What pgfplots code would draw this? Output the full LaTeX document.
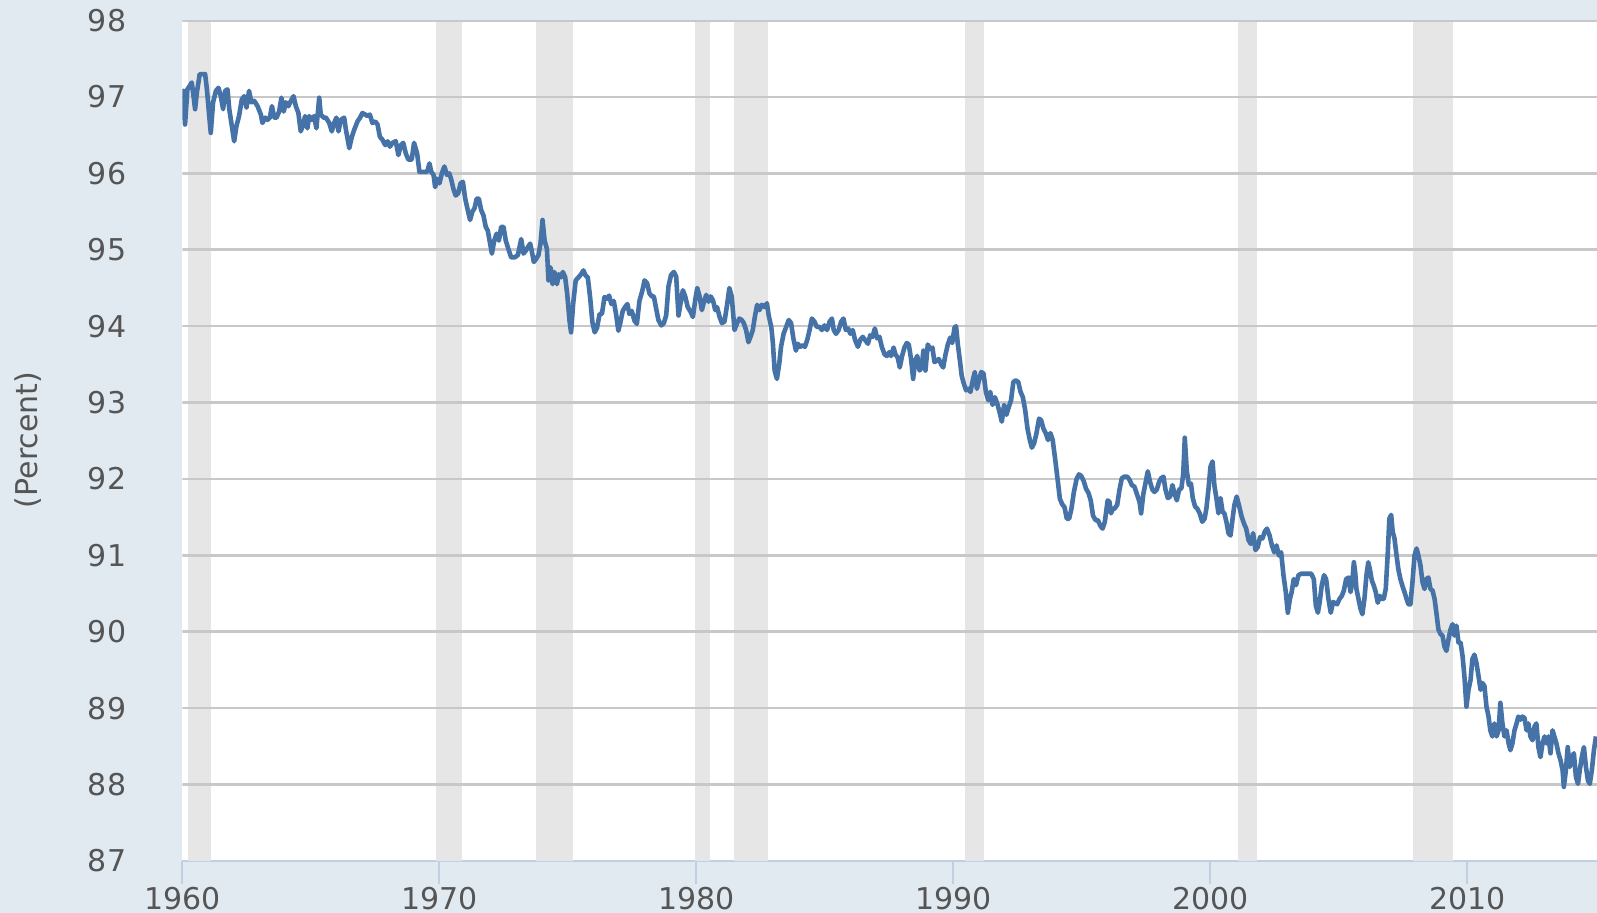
\documentclass[border=0pt]{standalone}
\usepackage{fontspec}
\setmainfont{DejaVu Sans}
\usepackage{pgfplots}
\usepackage{pgfplotstable}
\pgfplotsset{compat=1.18}
\definecolor{bgc}{HTML}{E1E9F1}
\definecolor{recc}{HTML}{E6E6E6}
\definecolor{gridc}{HTML}{C8C8C8}
\definecolor{linec}{HTML}{4572A7}
\definecolor{axisc}{HTML}{C0D0E0}
\definecolor{txtc}{HTML}{555555}
\pgfplotstableread{
x y
1960.00 96.70
1960.04 97.08
1960.10 96.64
1960.19 97.10
1960.29 97.15
1960.36 97.19
1960.43 97.01
1960.49 96.84
1960.56 97.06
1960.62 97.19
1960.67 97.30
1960.78 97.30
1960.88 97.30
1960.95 97.10
1961.04 96.75
1961.10 96.53
1961.19 96.93
1961.30 97.08
1961.40 97.12
1961.49 97.01
1961.58 96.84
1961.66 97.08
1961.75 97.10
1961.82 96.84
1961.92 96.62
1962.01 96.42
1962.10 96.62
1962.20 96.75
1962.31 96.97
1962.40 97.01
1962.49 96.86
1962.59 97.08
1962.68 96.93
1962.79 96.95
1962.92 96.88
1963.05 96.77
1963.11 96.66
1963.22 96.73
1963.31 96.70
1963.40 96.73
1963.48 96.88
1963.57 96.73
1963.66 96.73
1963.76 96.81
1963.85 96.99
1963.94 96.81
1964.02 96.93
1964.12 96.88
1964.22 96.95
1964.32 97.01
1964.41 96.88
1964.51 96.79
1964.60 96.55
1964.70 96.64
1964.77 96.75
1964.86 96.59
1964.93 96.75
1965.03 96.70
1965.12 96.75
1965.21 96.59
1965.32 96.99
1965.38 96.77
1965.49 96.73
1965.58 96.73
1965.71 96.66
1965.81 96.55
1965.90 96.66
1965.99 96.73
1966.07 96.55
1966.16 96.70
1966.29 96.73
1966.36 96.57
1966.49 96.33
1966.59 96.48
1966.68 96.57
1966.81 96.68
1966.91 96.73
1967.00 96.79
1967.11 96.77
1967.20 96.75
1967.29 96.77
1967.39 96.66
1967.50 96.68
1967.59 96.64
1967.68 96.48
1967.78 96.44
1967.89 96.37
1967.98 96.42
1968.07 96.35
1968.17 96.40
1968.30 96.42
1968.40 96.24
1968.50 96.37
1968.59 96.40
1968.69 96.26
1968.79 96.18
1968.92 96.18
1969.01 96.40
1969.13 96.26
1969.22 96.02
1969.31 96.02
1969.42 96.02
1969.52 96.02
1969.61 96.13
1969.68 96.02
1969.77 95.98
1969.83 95.82
1969.91 95.93
1970.00 95.87
1970.09 96.00
1970.19 96.09
1970.29 95.98
1970.38 96.00
1970.45 95.93
1970.54 95.80
1970.63 95.71
1970.73 95.74
1970.82 95.87
1970.91 95.89
1971.00 95.67
1971.10 95.52
1971.19 95.39
1971.28 95.50
1971.36 95.54
1971.45 95.67
1971.53 95.67
1971.62 95.52
1971.71 95.45
1971.80 95.30
1971.88 95.25
1971.97 95.08
1972.04 94.95
1972.13 95.12
1972.22 95.21
1972.31 95.12
1972.40 95.30
1972.49 95.30
1972.58 95.12
1972.68 95.01
1972.79 94.90
1972.92 94.90
1973.05 94.93
1973.18 95.14
1973.27 94.95
1973.36 94.99
1973.45 95.04
1973.53 95.08
1973.61 94.95
1973.67 94.84
1973.76 94.88
1973.85 94.93
1973.93 95.08
1974.01 95.39
1974.09 95.12
1974.18 95.01
1974.24 94.60
1974.32 94.77
1974.40 94.55
1974.47 94.71
1974.57 94.55
1974.64 94.68
1974.73 94.64
1974.80 94.71
1974.89 94.64
1974.97 94.42
1975.06 94.07
1975.12 93.92
1975.20 94.29
1975.30 94.60
1975.41 94.64
1975.51 94.68
1975.60 94.73
1975.69 94.66
1975.77 94.64
1975.86 94.38
1975.95 94.05
1976.04 93.92
1976.13 93.98
1976.23 94.16
1976.32 94.16
1976.42 94.38
1976.51 94.36
1976.60 94.40
1976.69 94.29
1976.78 94.33
1976.87 94.16
1976.96 93.94
1977.04 94.05
1977.13 94.20
1977.22 94.25
1977.31 94.29
1977.39 94.16
1977.48 94.20
1977.59 94.07
1977.68 94.03
1977.78 94.33
1977.89 94.46
1977.98 94.60
1978.08 94.56
1978.17 94.43
1978.26 94.39
1978.34 94.39
1978.43 94.23
1978.52 94.08
1978.63 94.01
1978.73 94.04
1978.82 94.14
1978.91 94.52
1979.01 94.67
1979.12 94.71
1979.21 94.65
1979.30 94.14
1979.38 94.30
1979.47 94.47
1979.56 94.39
1979.66 94.25
1979.77 94.19
1979.86 94.12
1979.95 94.34
1980.03 94.50
1980.12 94.39
1980.21 94.21
1980.29 94.32
1980.38 94.41
1980.47 94.32
1980.55 94.39
1980.64 94.34
1980.73 94.21
1980.80 94.25
1980.90 94.12
1980.99 94.04
1981.09 94.06
1981.19 94.28
1981.28 94.50
1981.37 94.39
1981.48 93.95
1981.58 94.04
1981.67 94.10
1981.76 94.08
1981.84 94.04
1981.93 93.95
1982.02 93.79
1982.10 93.86
1982.19 93.95
1982.28 94.14
1982.36 94.28
1982.45 94.21
1982.54 94.28
1982.65 94.25
1982.74 94.30
1982.81 94.14
1982.91 93.99
1982.97 93.79
1983.04 93.42
1983.13 93.31
1983.22 93.51
1983.29 93.73
1983.39 93.90
1983.49 93.99
1983.59 94.08
1983.68 94.04
1983.77 93.84
1983.87 93.68
1983.94 93.77
1984.03 93.73
1984.13 93.75
1984.22 93.73
1984.31 93.82
1984.40 93.95
1984.49 94.10
1984.59 94.06
1984.68 93.99
1984.79 93.99
1984.88 93.95
1984.98 94.01
1985.08 93.95
1985.18 94.06
1985.27 94.10
1985.34 93.95
1985.43 93.90
1985.53 93.95
1985.63 94.06
1985.72 94.10
1985.81 93.95
1985.90 93.97
1985.99 93.90
1986.08 93.95
1986.17 93.82
1986.28 93.73
1986.37 93.82
1986.47 93.86
1986.56 93.82
1986.67 93.77
1986.76 93.88
1986.85 93.86
1986.94 93.97
1987.03 93.84
1987.12 93.86
1987.21 93.73
1987.32 93.63
1987.41 93.61
1987.50 93.66
1987.57 93.61
1987.67 93.72
1987.74 93.63
1987.83 93.59
1987.91 93.46
1988.00 93.61
1988.09 93.72
1988.18 93.78
1988.26 93.76
1988.35 93.57
1988.43 93.31
1988.51 93.55
1988.59 93.61
1988.68 93.42
1988.76 93.46
1988.83 93.68
1988.91 93.42
1989.00 93.76
1989.09 93.70
1989.18 93.72
1989.26 93.53
1989.35 93.55
1989.43 93.57
1989.52 93.50
1989.60 93.46
1989.69 93.63
1989.78 93.76
1989.87 93.85
1989.95 93.78
1990.04 93.98
1990.10 94.00
1990.17 93.76
1990.25 93.55
1990.32 93.35
1990.40 93.25
1990.49 93.16
1990.57 93.18
1990.66 93.14
1990.75 93.29
1990.83 93.40
1990.91 93.18
1990.99 93.29
1991.08 93.40
1991.17 93.38
1991.26 93.14
1991.35 93.03
1991.43 93.14
1991.52 92.97
1991.61 93.07
1991.70 92.99
1991.79 92.88
1991.88 92.75
1991.97 92.97
1992.06 92.84
1992.15 92.94
1992.24 93.03
1992.33 93.27
1992.42 93.29
1992.52 93.27
1992.61 93.14
1992.70 93.07
1992.79 92.90
1992.88 92.66
1992.97 92.51
1993.05 92.41
1993.14 92.47
1993.23 92.60
1993.33 92.79
1993.41 92.77
1993.50 92.66
1993.59 92.60
1993.68 92.51
1993.77 92.60
1993.86 92.51
1993.96 92.25
1994.05 92.00
1994.14 91.74
1994.23 91.67
1994.32 91.63
1994.41 91.48
1994.50 91.48
1994.59 91.61
1994.68 91.82
1994.79 92.00
1994.88 92.06
1994.97 92.04
1995.07 91.97
1995.16 91.87
1995.25 91.82
1995.34 91.72
1995.43 91.52
1995.53 91.46
1995.62 91.46
1995.71 91.39
1995.80 91.35
1995.89 91.44
1995.94 91.57
1996.00 91.72
1996.07 91.70
1996.13 91.55
1996.20 91.61
1996.26 91.61
1996.37 91.66
1996.46 91.86
1996.55 92.01
1996.65 92.03
1996.76 92.03
1996.85 91.99
1996.94 91.92
1997.04 91.90
1997.13 91.81
1997.24 91.70
1997.30 91.55
1997.39 91.81
1997.48 91.96
1997.56 92.10
1997.65 91.96
1997.74 91.86
1997.82 91.83
1997.91 91.86
1998.00 91.96
1998.08 92.01
1998.17 92.03
1998.25 91.86
1998.34 91.75
1998.43 91.77
1998.52 91.92
1998.60 91.81
1998.69 91.72
1998.78 91.86
1998.87 91.88
1998.94 92.07
1999.00 92.54
1999.08 92.10
1999.16 91.92
1999.24 91.94
1999.31 91.75
1999.40 91.64
1999.49 91.61
1999.58 91.55
1999.68 91.44
1999.77 91.48
1999.84 91.61
1999.92 91.86
2000.00 92.16
2000.08 92.23
2000.15 91.92
2000.23 91.75
2000.31 91.55
2000.39 91.75
2000.47 91.57
2000.54 91.55
2000.62 91.44
2000.70 91.29
2000.78 91.26
2000.86 91.48
2000.93 91.66
2001.02 91.77
2001.12 91.64
2001.21 91.51
2001.30 91.42
2001.39 91.35
2001.48 91.20
2001.57 91.15
2001.66 91.29
2001.75 91.07
2001.84 91.11
2001.93 91.24
2002.02 91.22
2002.11 91.31
2002.20 91.35
2002.30 91.26
2002.39 91.13
2002.48 91.04
2002.57 91.13
2002.66 91.00
2002.75 91.04
2002.84 90.74
2002.93 90.52
2003.01 90.25
2003.09 90.43
2003.16 90.52
2003.24 90.69
2003.33 90.61
2003.42 90.74
2003.53 90.76
2003.66 90.76
2003.79 90.76
2003.92 90.76
2004.02 90.69
2004.10 90.34
2004.18 90.25
2004.25 90.39
2004.33 90.61
2004.42 90.74
2004.50 90.69
2004.59 90.43
2004.68 90.25
2004.77 90.39
2004.93 90.36
2005.02 90.43
2005.11 90.47
2005.19 90.54
2005.28 90.69
2005.37 90.71
2005.45 90.52
2005.51 90.63
2005.58 90.91
2005.63 90.78
2005.68 90.56
2005.76 90.43
2005.84 90.30
2005.91 90.23
2005.99 90.43
2006.07 90.74
2006.14 90.91
2006.20 90.82
2006.28 90.67
2006.36 90.60
2006.43 90.52
2006.51 90.38
2006.59 90.47
2006.67 90.43
2006.74 90.43
2006.82 90.56
2006.90 91.04
2006.96 91.48
2007.03 91.53
2007.09 91.31
2007.16 91.22
2007.24 91.00
2007.31 90.82
2007.39 90.69
2007.47 90.60
2007.55 90.52
2007.63 90.43
2007.70 90.36
2007.78 90.36
2007.86 90.65
2007.94 91.00
2008.02 91.09
2008.09 91.00
2008.17 90.87
2008.25 90.65
2008.33 90.56
2008.40 90.69
2008.48 90.71
2008.56 90.56
2008.64 90.54
2008.72 90.43
2008.79 90.25
2008.87 90.03
2008.95 89.97
2009.03 89.95
2009.10 89.81
2009.18 89.75
2009.26 89.90
2009.34 90.03
2009.42 90.10
2009.49 89.95
2009.57 90.08
2009.65 89.86
2009.73 89.86
2009.81 89.68
2009.88 89.42
2009.96 89.02
2010.04 89.24
2010.12 89.37
2010.19 89.64
2010.27 89.70
2010.35 89.59
2010.43 89.42
2010.51 89.24
2010.58 89.33
2010.66 89.29
2010.74 89.02
2010.82 88.89
2010.89 88.71
2010.97 88.63
2011.05 88.80
2011.13 88.63
2011.21 88.71
2011.28 89.07
2011.36 88.80
2011.44 88.63
2011.52 88.71
2011.60 88.54
2011.67 88.45
2011.75 88.54
2011.83 88.71
2011.91 88.80
2011.98 88.89
2012.06 88.85
2012.14 88.89
2012.22 88.87
2012.30 88.71
2012.37 88.80
2012.45 88.63
2012.53 88.58
2012.61 88.76
2012.68 88.80
2012.76 88.49
2012.84 88.36
2012.92 88.54
2013.00 88.63
2013.07 88.54
2013.15 88.63
2013.23 88.41
2013.31 88.71
2013.38 88.63
2013.46 88.54
2013.54 88.41
2013.62 88.32
2013.70 88.19
2013.75 87.97
2013.83 88.19
2013.90 88.49
2013.98 88.23
2014.06 88.36
2014.14 88.41
2014.22 88.10
2014.30 88.01
2014.37 88.19
2014.45 88.36
2014.53 88.49
2014.61 88.23
2014.69 88.05
2014.76 88.01
2014.84 88.19
2014.92 88.45
2015.00 88.63
}\series
\begin{document}
\begin{tikzpicture}
\fill[bgc] (0,0) rectangle (798.5pt,456.5pt);
\begin{axis}[
  at={(91.25pt,26pt)}, anchor=south west,
  width=707.25pt, height=420.2pt, scale only axis,
  xmin=1960, xmax=2015.04, ymin=87, ymax=98,
  axis background/.style={fill=white},
  axis x line*=bottom, axis y line*=left,
  x axis line style={draw=axisc, line width=1pt, -},
  y axis line style={draw=none},
  xtick={1960,1970,1980,1990,2000,2010},
  ytick={87,88,...,98},
  tick align=outside,
  major tick length=11.5pt,
  xtick style={draw=axisc, line width=1pt},
  ytick style={draw=none},
  minor tick num=0,
  /pgf/number format/assume math mode=true,
  /pgf/number format/1000 sep={},
  ticklabel style={font=\fontsize{15}{18}\selectfont, text=txtc, inner sep=0pt},
  xticklabel style={anchor=north, yshift=-1.5pt},
  yticklabel style={anchor=east, xshift=-16.5pt},
  clip=true,
]
% recession bars
\addplot[fill=recc, draw=none] coordinates {(1960.23,87) (1960.23,98) (1961.09,98) (1961.09,87)} -- cycle;
\addplot[fill=recc, draw=none] coordinates {(1969.85,87) (1969.85,98) (1970.87,98) (1970.87,87)} -- cycle;
\addplot[fill=recc, draw=none] coordinates {(1973.75,87) (1973.75,98) (1975.19,98) (1975.19,87)} -- cycle;
\addplot[fill=recc, draw=none] coordinates {(1979.96,87) (1979.96,98) (1980.53,98) (1980.53,87)} -- cycle;
\addplot[fill=recc, draw=none] coordinates {(1981.45,87) (1981.45,98) (1982.80,98) (1982.80,87)} -- cycle;
\addplot[fill=recc, draw=none] coordinates {(1990.45,87) (1990.45,98) (1991.18,98) (1991.18,87)} -- cycle;
\addplot[fill=recc, draw=none] coordinates {(2001.08,87) (2001.08,98) (2001.82,98) (2001.82,87)} -- cycle;
\addplot[fill=recc, draw=none] coordinates {(2007.87,87) (2007.87,98) (2009.43,98) (2009.43,87)} -- cycle;
% grid lines
\pgfplotsinvokeforeach{88,89,90,91,92,93,94,95,96,97,98}{
  \addplot[gridc, line width=1.3pt] coordinates {(1960,#1) (2016,#1)};
}
% series
\addplot[linec, line width=2.3pt, line join=round] table[x=x,y=y] {\series};
\end{axis}
\node[rotate=90, text=txtc, font=\fontsize{15}{18}\selectfont] at (14.25pt,236.5pt) {(Percent)};
\pgfresetboundingbox
\useasboundingbox (0,0) rectangle (798.5pt,456.5pt);
\end{tikzpicture}
\end{document}
